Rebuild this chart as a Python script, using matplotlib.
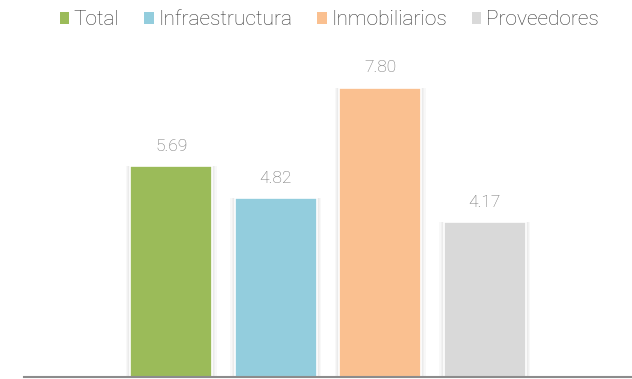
import matplotlib.pyplot as plt
from matplotlib.patches import Patch

# serie y valores
series = ['Total', 'Infraestructura', 'Inmobiliarios', 'Proveedores']
valores = [5.69, 4.82, 7.80, 4.17]
colores = ['#9BBB59', '#93CDDD', '#FAC090', '#D9D9D9']

plt.rcParams['font.family'] = ['Roboto', 'DejaVu Sans']

fig = plt.figure(figsize=(6.32, 3.79), dpi=100)
ax = fig.add_axes([24 / 632, 2 / 379, 608 / 632, 334 / 379])

x = list(range(len(valores)))
ancho = 0.785

# sombra suave a los lados de cada barra
for extra in [0.085, 0.06, 0.04, 0.022]:
    ax.bar(x, valores, width=ancho + extra, color='#808080',
           alpha=0.05, linewidth=0, zorder=1)

ax.bar(x, valores, width=ancho, color=colores, edgecolor='white', linewidth=1.2, zorder=2)

for xi, v in zip(x, valores):
    ax.text(xi, v + 0.33, f'{v:.2f}', ha='center', va='bottom',
            fontsize=12.5, color='#6E6E6E', fontweight='light')

ax.set_xlim(1.5 - 304 / 104.5, 1.5 + 304 / 104.5)
ax.set_ylim(0, 9)
for lado in ['top', 'right', 'left']:
    ax.spines[lado].set_visible(False)
ax.spines['bottom'].set_color('#8C8C8C')
ax.spines['bottom'].set_linewidth(1.5)
ax.set_xticks([])
ax.set_yticks([])

manijas = [Patch(facecolor=c, edgecolor='none') for c in colores]
fig.legend(manijas, series, loc='upper center', bbox_to_anchor=(0.521, 1.022), ncol=4,
           frameon=False, prop={'size': 15, 'weight': 'light'}, handlelength=0.45,
           handleheight=0.45, handletextpad=0.22, columnspacing=1.2, labelcolor='#333333')

fig.savefig('out.png', dpi=100)
